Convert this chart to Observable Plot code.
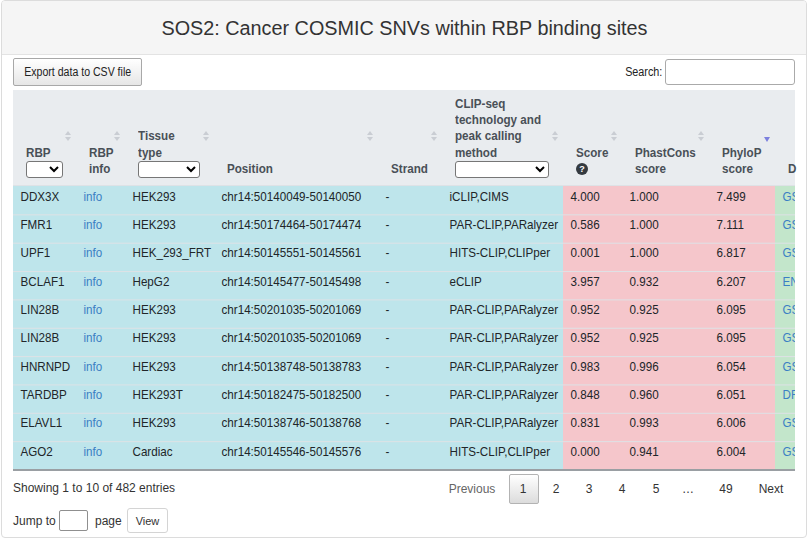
<!DOCTYPE html>
<html><head><meta charset="utf-8">
<script src="https://cdn.jsdelivr.net/npm/d3@7"></script>
<script src="https://cdn.jsdelivr.net/npm/@observablehq/plot@0.6"></script>
<style>
body{margin:0;width:808px;height:540px;position:relative;overflow:hidden;background:#fff;font-family:"Liberation Sans",Arial,Helvetica,sans-serif;color:#333}
select{position:absolute;box-sizing:border-box;background:#fff;border:1px solid #767676;border-radius:3px;font-size:11px;padding:0}
</style></head><body>
<script>
// ---------------- data ----------------
const titleText = "SOS2: Cancer COSMIC SNVs within RBP binding sites";
const headerLabels = [["RBP"],["RBP","info"],["Tissue","type"],["Position"],["Strand"],["CLIP-seq","technology and","peak calling","method"],["Score"],["PhastCons","score"],["PhyloP","score"],["D"]];
const rbps = ["DDX3X","FMR1","UPF1","BCLAF1","LIN28B","LIN28B","HNRNPD","TARDBP","ELAVL1","AGO2"];
const rbpInfo = ["info","info","info","info","info","info","info","info","info","info"];
const tissues = ["HEK293","HEK293","HEK_293_FRT","HepG2","HEK293","HEK293","HEK293","HEK293T","HEK293","Cardiac"];
const positions = ["chr14:50140049-50140050","chr14:50174464-50174474","chr14:50145551-50145561","chr14:50145477-50145498","chr14:50201035-50201069","chr14:50201035-50201069","chr14:50138748-50138783","chr14:50182475-50182500","chr14:50138746-50138768","chr14:50145546-50145576"];
const strands = ["-","-","-","-","-","-","-","-","-","-"];
const methods = ["iCLIP,CIMS","PAR-CLIP,PARalyzer","HITS-CLIP,CLIPper","eCLIP","PAR-CLIP,PARalyzer","PAR-CLIP,PARalyzer","PAR-CLIP,PARalyzer","PAR-CLIP,PARalyzer","PAR-CLIP,PARalyzer","HITS-CLIP,CLIPper"];
const scores = [4.000,0.586,0.001,3.957,0.952,0.952,0.983,0.848,0.831,0.000];
const phastCons = [1.000,1.000,1.000,0.932,0.925,0.925,0.996,0.960,0.993,0.941];
const phyloP = [7.499,7.111,6.817,6.207,6.095,6.095,6.054,6.051,6.006,6.004];
const datasets = ["GSE","GSE","GSE","ENCODE","GSE","GSE","GSE","DRA","GSE","GSE"];
const infoText = "Showing 1 to 10 of 482 entries";
const pageLabels = ["Previous","1","2","3","4","5","…","49","Next"];

// ---------------- layout (positions / sizes / styles) ----------------
const TX = 13, TY = 90, TW = 782, HEADH = 96, RH = 28.35, SQ = 0.97, HSQ = 0.97;
const colWidths = [63,49,89,164,64,121,59,87,66,80];
const colGroup = [0,0,0,0,0,0,1,1,1,2];
const groupFill = ["#bee5eb","#f5c6cb","#c3e6cb"];
const linkCols = [1,9];
const colX0 = Array.from(d3.cumsum([0, ...colWidths]));
const pageCenters = [472,523,556,589,622,656,688,726,771];

const body = document.body;
function box(style, parent){ const d=document.createElement("div"); d.style.cssText="position:absolute;box-sizing:border-box;"+style; (parent||body).appendChild(d); return d; }
function label(s, x, cy, o={}){
  const size=o.size||12, lh=Math.round(size*1.25), align=o.align||"left", sx=o.sx||1;
  const d=document.createElement("div");
  let pos;
  if(align==="left") pos=`left:${x}px;`;
  else if(align==="right") pos=`right:${808-x}px;text-align:right;`;
  else pos=`left:${x-400}px;width:800px;text-align:center;`;
  d.style.cssText=`position:absolute;${pos}top:${cy-lh/2}px;height:${lh}px;line-height:${lh}px;font-size:${size}px;font-weight:${o.weight||"normal"};color:${o.color||"#333"};white-space:nowrap;`;
  const sp=document.createElement("span");
  sp.textContent=s;
  sp.style.cssText=`display:inline-block;transform:scaleX(${sx});transform-origin:${align==="left"?"left":align==="right"?"right":"center"} center;`;
  d.appendChild(sp); (o.parent||body).appendChild(d); return d;
}

// card + title bar
box("left:1px;top:0;width:806px;height:538px;border:1px solid #dcdcdc;border-radius:4px;");
box("left:2px;top:1px;width:804px;height:54px;background:#f5f5f5;border-bottom:1px solid #e3e3e3;border-radius:3px 3px 0 0;");
label(titleText, 404, 28, {size:20, align:"center", sx:0.99, color:"#333"});

// export button + search
box("left:13px;top:58px;width:129px;height:28px;border:1px solid #a8a8a8;border-radius:2px;background:linear-gradient(#ffffff,#e6e6e6);");
label("Export data to CSV file", 77.5, 72, {size:12, align:"center", sx:0.88, color:"#222"});
label("Search:", 662, 72, {size:12, align:"right", sx:0.9, color:"#222"});
box("left:665px;top:59px;width:130px;height:26px;border:1px solid #aaa;border-radius:3px;background:#fff;");

// table container
const tc = box(`left:${TX}px;top:${TY}px;width:${TW}px;height:382px;overflow:hidden;`);
box(`left:0;top:0;width:${TW}px;height:${HEADH}px;background:#e9ecef;border-bottom:1px solid #dee2e6;`, tc);

// ---------------- table body drawn with Plot ----------------
const NR = rbps.length;
const fmt3 = d3.format(".3f");
const cells = [];
rbps.forEach((r, i) => {
  const vals = [r, rbpInfo[i], tissues[i], positions[i], strands[i], methods[i], fmt3(scores[i]), fmt3(phastCons[i]), fmt3(phyloP[i]), datasets[i]];
  vals.forEach((v, j) => cells.push({row: i, col: j, text: v}));
});
const PADX = 7;
const chart = Plot.plot({
  width: TW,
  height: Math.ceil(NR * RH) + 2,
  margin: 0,
  x: {type: "linear", domain: [0, TW], range: [0, TW], axis: null},
  y: {type: "linear", domain: [0, NR], range: [0, NR * RH], axis: null},
  color: {type: "identity"},
  style: {fontFamily: "'Liberation Sans', Arial, sans-serif", fontSize: "12px", background: "transparent", overflow: "hidden"},
  marks: [
    Plot.rect(cells, {x1: d => colX0[d.col], x2: d => colX0[d.col + 1], y1: "row", y2: d => d.row + 1, fill: d => groupFill[colGroup[d.col]], shapeRendering: "crispEdges"}),
    Plot.ruleY(d3.range(1, NR), {stroke: "#dee2e6", strokeWidth: 1}),
    Plot.ruleY([NR], {stroke: "#9a9fa3", strokeWidth: 2}),
    Plot.text(cells, {x: d => colX0[d.col] + PADX, y: d => d.row + 0.5, text: "text", textAnchor: "start", fontSize: 12,
      fill: d => linkCols.includes(d.col) ? "#3b7fc4" : "#212529"})
  ]
});
chart.style.position = "absolute";
chart.style.left = "0px";
chart.style.top = HEADH + "px";
chart.style.maxWidth = "none";
chart.querySelectorAll("text").forEach(t => {
  let tr = t.getAttribute("transform") || "";
  if (t.hasAttribute("x") || t.hasAttribute("y")) {
    const x = +t.getAttribute("x") || 0, y = +t.getAttribute("y") || 0;
    t.removeAttribute("x"); t.removeAttribute("y");
    tr += ` translate(${x},${y})`;
  }
  t.setAttribute("transform", tr + ` scale(${SQ},1)`);
});
tc.appendChild(chart);

// ---------------- header cells ----------------
const selectCols = [0, 2, 5];
const selectW = {0: 37, 2: 62, 5: 94};
const LS = 16.3, BOT = 169.5;
headerLabels.forEach((lines, j) => {
  const x = TX + colX0[j] + 13;
  const hasExtra = selectCols.includes(j) || j === 6;
  const n = lines.length;
  lines.forEach((s, k) => {
    const cy = (hasExtra ? BOT - LS * (n - k) : BOT - LS * (n - 1 - k));
    label(s, x, cy, {size: 12, weight: "bold", color: "#495057", sx: HSQ});
  });
  if (selectCols.includes(j)) {
    const sel = document.createElement("select");
    sel.style.cssText += `left:${x}px;top:161px;width:${selectW[j]}px;height:17px;`;
    body.appendChild(sel);
  }
  if (j === 6) {
    const q = box(`left:${x}px;top:163px;width:12px;height:12px;border-radius:50%;background:#343a40;color:#fff;font-size:9px;font-weight:bold;line-height:12px;text-align:center;`);
    q.textContent = "?";
  }
  if (j < 9) {
    const cx = TX + colX0[j + 1] - 8;
    if (j === 8) {
      box(`left:${cx-3}px;top:137px;width:0;height:0;border-left:3px solid transparent;border-right:3px solid transparent;border-top:5px solid #7c80de;`);
    } else {
      box(`left:${cx-3}px;top:131px;width:0;height:0;border-left:3px solid transparent;border-right:3px solid transparent;border-bottom:4px solid #c9cdd3;`);
      box(`left:${cx-3}px;top:137px;width:0;height:0;border-left:3px solid transparent;border-right:3px solid transparent;border-top:4px solid #c9cdd3;`);
    }
  }
});

// ---------------- footer ----------------
label(infoText, 13, 488, {size: 12, color: "#333"});
box("left:509px;top:474px;width:30px;height:30px;border:1px solid #b3b3b3;border-radius:2px;background:linear-gradient(#ffffff,#dcdcdc);");
pageLabels.forEach((p, i) => label(p, pageCenters[i], 489, {size: 12, align: "center", color: i === 0 ? "#666" : "#333"}));
label("Jump to", 13, 521, {size: 12, color: "#333"});
box("left:59px;top:510px;width:29px;height:21px;border:1px solid #8f8f8f;border-radius:2px;background:#fff;");
label("page", 95, 521, {size: 12, color: "#333"});
box("left:127px;top:508px;width:41px;height:25px;border:1px solid #d4d4d4;border-radius:3px;background:#fff;");
label("View", 147.5, 520.5, {size: 11, align: "center", color: "#333"});
</script>
</body></html>
